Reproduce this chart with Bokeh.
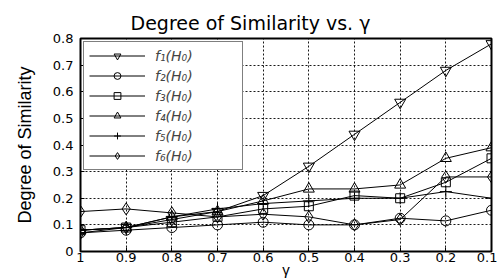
from bokeh.plotting import figure
from bokeh.models import Range1d, FixedTicker, Legend, LegendItem
from bokeh.embed import file_html
from bokeh.resources import INLINE

gamma = [1.0, 0.9, 0.8, 0.7, 0.6, 0.5, 0.4, 0.3, 0.2, 0.1]
f1 = [0.07, 0.09, 0.12, 0.15, 0.21, 0.32, 0.44, 0.56, 0.68, 0.78]
f2 = [0.07, 0.08, 0.09, 0.10, 0.11, 0.10, 0.10, 0.125, 0.115, 0.155]
f3 = [0.08, 0.09, 0.11, 0.13, 0.16, 0.17, 0.21, 0.20, 0.26, 0.35]
f4 = [0.08, 0.09, 0.13, 0.15, 0.19, 0.235, 0.235, 0.25, 0.35, 0.39]
f5 = [0.08, 0.09, 0.13, 0.16, 0.18, 0.19, 0.20, 0.20, 0.225, 0.20]
f6 = [0.15, 0.16, 0.145, 0.13, 0.14, 0.13, 0.10, 0.12, 0.28, 0.28]

series = [f1, f2, f3, f4, f5, f6]
labels = ["f\u2081(H\u2080)", "f\u2082(H\u2080)", "f\u2083(H\u2080)",
          "f\u2084(H\u2080)", "f\u2085(H\u2080)", "f\u2086(H\u2080)"]
markers = ["inverted_triangle", "circle", "square", "triangle", "cross", "diamond"]
msizes = [11, 10, 9, 11, 12, 12]

x_ticks = [1.0, 0.9, 0.8, 0.7, 0.6, 0.5, 0.4, 0.3, 0.2, 0.1]
x_tick_labels = ["1", "0.9", "0.8", "0.7", "0.6", "0.5", "0.4", "0.3", "0.2", "0.1"]
y_ticks = [0.0, 0.1, 0.2, 0.3, 0.4, 0.5, 0.6, 0.7, 0.8]
y_tick_labels = ["0", "0.1", "0.2", "0.3", "0.4", "0.5", "0.6", "0.7", "0.8"]

FONT = "Liberation Sans"
WIDE = "DejaVu Sans"

p = figure(width=497, height=280, output_backend="svg", toolbar_location=None,
           x_range=Range1d(1.0, 0.1), y_range=Range1d(0.0, 0.8),
           min_border_left=80, min_border_top=38, min_border_right=6, min_border_bottom=28,
           title="Degree of Similarity vs. \u03b3")
p.title.align = "left"
p.title.offset = 50
p.title.text_font = WIDE
p.title.text_font_size = "19px"
p.title.text_font_style = "normal"
p.title.text_color = "black"
p.background_fill_color = "white"
p.border_fill_color = "white"
p.outline_line_color = "black"
p.outline_line_width = 2

for ax in (p.xaxis[0], p.yaxis[0]):
    ax.major_label_text_font = WIDE
    ax.major_label_text_font_size = "13px"
    ax.major_label_text_color = "black"
    ax.axis_label_text_font = FONT
    ax.axis_label_text_font_style = "normal"
    ax.axis_label_text_color = "black"
    ax.major_tick_in = 4
    ax.major_tick_out = 0
    ax.minor_tick_in = 0
    ax.minor_tick_out = 0
    ax.axis_line_color = "black"
    ax.major_tick_line_color = "black"

p.xaxis.ticker = FixedTicker(ticks=x_ticks)
p.xaxis.major_label_overrides = dict(zip(x_ticks, x_tick_labels))
p.yaxis.ticker = FixedTicker(ticks=y_ticks)
p.yaxis.major_label_overrides = dict(zip(y_ticks, y_tick_labels))
p.xaxis.axis_label = "\u03b3"
p.xaxis.axis_label_text_font_size = "15px"
p.xaxis.major_label_standoff = 1
p.xaxis.axis_label_standoff = -4
p.yaxis.axis_label = "Degree of Similarity"
p.yaxis.axis_label_text_font_size = "18px"
p.yaxis.axis_label_standoff = 15
p.yaxis.major_label_standoff = 7

p.grid.grid_line_color = "black"
p.grid.grid_line_dash = "2 2"
p.grid.grid_line_alpha = 0.9
p.grid.grid_line_width = 1

items = []
for ys, lab, mk, ms in zip(series, labels, markers, msizes):
    r1 = p.line(gamma, ys, line_color="black", line_width=1)
    r2 = p.scatter(gamma, ys, marker=mk, size=ms, line_color="black",
                   fill_alpha=0, line_width=1)
    items.append(LegendItem(label=lab, renderers=[r1, r2]))

legend = Legend(items=items, location="top_left")
legend.label_text_font = WIDE
legend.label_text_font_style = "italic"
legend.label_text_font_size = "14px"
legend.label_height = 17
legend.glyph_height = 17
legend.glyph_width = 56
legend.label_width = 82
legend.spacing = 3
legend.padding = 5
legend.margin = 3
legend.label_standoff = 10
legend.border_line_color = "black"
legend.border_line_width = 1.5
legend.background_fill_color = "white"
legend.background_fill_alpha = 1
p.add_layout(legend)

open("out.html", "w").write(file_html(p, INLINE))
